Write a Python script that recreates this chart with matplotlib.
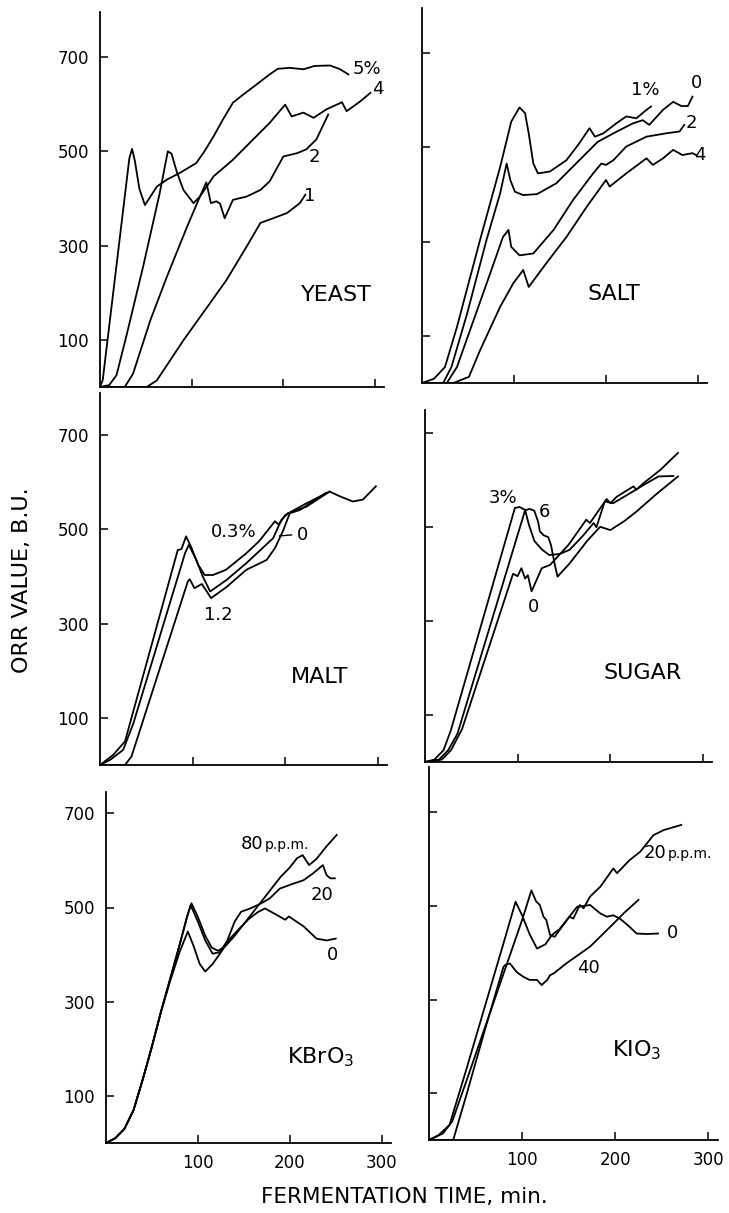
import numpy as np
import matplotlib
matplotlib.use("Agg")
import matplotlib.pyplot as plt

# ---- data: fermentation time (min) vs ORR value (B.U.) ----
# YEAST
yeast5_t = [0, 3, 32, 35, 38, 43, 49, 62, 73, 87, 105, 114, 124, 134, 145, 156, 171, 185, 194, 207, 222, 234, 251, 262, 271]
yeast5_v = [0, 15, 485, 505, 480, 420, 386, 425, 440, 454, 475, 500, 532, 567, 603, 620, 642, 663, 675, 677, 674, 681, 682, 674, 663]
yeast4_t = [0, 10, 18, 29, 47, 65, 74, 78, 84, 91, 102, 109, 124, 145, 167, 185, 202, 209, 222, 233, 247, 264, 269, 284, 295]
yeast4_v = [0, 4, 25, 110, 255, 410, 500, 495, 455, 418, 390, 404, 447, 482, 525, 560, 599, 574, 582, 571, 589, 604, 585, 606, 624]
yeast2_t = [0, 27, 36, 55, 73, 95, 109, 116, 121, 127, 131, 136, 145, 160, 175, 185, 200, 215, 225, 236, 249]
yeast2_v = [0, 0, 28, 142, 234, 340, 404, 434, 390, 394, 389, 358, 397, 404, 418, 436, 489, 496, 504, 525, 578]
yeast1_t = [0, 51, 62, 91, 116, 138, 160, 175, 189, 204, 218, 224]
yeast1_v = [0, 0, 14, 99, 167, 227, 298, 348, 358, 369, 390, 408]

# SALT
salt1_t = [0, 13, 25, 38, 63, 85, 97, 106, 112, 116, 121, 126, 139, 157, 171, 182, 188, 197, 211, 222, 233, 244, 249]
salt1_v = [0, 9, 34, 119, 303, 459, 555, 585, 573, 530, 466, 445, 449, 473, 509, 541, 523, 530, 551, 566, 562, 580, 587]
salt0_t = [0, 23, 32, 49, 70, 85, 92, 96, 101, 110, 125, 146, 171, 191, 208, 229, 240, 247, 262, 273, 282, 289, 294]
salt0_v = [0, 0, 34, 147, 303, 403, 466, 431, 406, 399, 401, 424, 473, 512, 530, 551, 558, 548, 580, 597, 588, 588, 608]
salt2_t = [0, 27, 38, 56, 74, 88, 94, 97, 106, 121, 143, 164, 186, 195, 200, 208, 222, 244, 265, 280, 285]
salt2_v = [0, 0, 34, 133, 232, 310, 325, 289, 271, 275, 325, 388, 445, 466, 463, 473, 502, 523, 530, 534, 548]
salt4_t = [0, 34, 51, 63, 85, 99, 110, 116, 135, 157, 179, 200, 204, 222, 244, 251, 262, 273, 283, 294, 298]
salt4_v = [0, 0, 13, 69, 162, 211, 240, 204, 254, 310, 374, 431, 417, 445, 477, 463, 477, 495, 484, 488, 484]

# MALT
malt03_t = [0, 14, 27, 84, 88, 93, 99, 106, 113, 122, 136, 158, 172, 189, 193, 200, 220, 248]
malt03_v = [0, 21, 50, 456, 458, 485, 460, 425, 403, 403, 414, 449, 475, 517, 510, 530, 552, 580]
malt0_t = [0, 11, 25, 36, 92, 96, 104, 111, 119, 137, 158, 187, 196, 203, 223, 248, 259, 273, 284, 298]
malt0_v = [0, 11, 32, 88, 450, 467, 435, 400, 368, 393, 428, 481, 520, 534, 548, 580, 570, 559, 563, 591]
malt12_t = [0, 27, 34, 95, 97, 102, 110, 113, 120, 137, 158, 180, 189, 198, 205, 216, 244]
malt12_v = [0, 0, 18, 390, 394, 375, 384, 375, 354, 378, 414, 435, 460, 498, 534, 541, 577]

# SUGAR
sugar3_t = [0, 10, 20, 28, 97, 102, 108, 112, 118, 126, 134, 145, 156, 170, 182, 185, 194, 203, 221, 236, 252, 268]
sugar3_v = [0, 5, 25, 68, 540, 542, 536, 505, 470, 452, 440, 442, 451, 480, 508, 499, 554, 550, 571, 589, 607, 608]
sugar6_t = [0, 15, 25, 35, 108, 113, 118, 122, 124, 128, 133, 136, 140, 143, 156, 175, 189, 200, 215, 228, 250, 273]
sugar6_v = [0, 5, 25, 60, 535, 538, 534, 511, 490, 482, 478, 461, 420, 394, 422, 470, 500, 493, 512, 532, 570, 607]
sugar0_t = [0, 18, 28, 40, 95, 100, 104, 108, 111, 115, 120, 126, 135, 155, 174, 178, 196, 200, 207, 225, 228, 236, 254, 273]
sugar0_v = [0, 5, 25, 70, 400, 395, 412, 390, 397, 363, 385, 412, 419, 462, 515, 508, 559, 550, 564, 586, 579, 593, 621, 657]

# KBrO3
kb80_t = [0, 10, 20, 30, 40, 50, 60, 70, 80, 88, 93, 100, 108, 115, 122, 130, 140, 150, 160, 170, 180, 190, 200, 208, 214, 221, 229, 240, 251]
kb80_v = [0, 10, 30, 70, 135, 205, 280, 350, 420, 480, 509, 480, 440, 415, 408, 418, 440, 465, 490, 515, 540, 565, 585, 605, 611, 590, 603, 630, 654]
kb20_t = [0, 10, 20, 30, 40, 50, 60, 70, 80, 88, 92, 100, 108, 116, 124, 132, 140, 147, 157, 168, 178, 189, 200, 215, 225, 236, 240, 244, 249]
kb20_v = [0, 10, 30, 70, 135, 205, 280, 350, 420, 478, 505, 470, 430, 402, 405, 430, 470, 491, 498, 508, 519, 540, 548, 558, 572, 590, 569, 562, 562]
kb0_t = [0, 10, 20, 30, 40, 50, 60, 70, 80, 89, 95, 102, 108, 116, 124, 135, 145, 155, 165, 173, 186, 195, 199, 215, 229, 240, 250]
kb0_v = [0, 10, 30, 70, 135, 205, 280, 345, 405, 449, 420, 380, 364, 380, 402, 434, 455, 475, 490, 498, 484, 474, 481, 460, 434, 430, 434]

# KIO3
ki20_t = [0, 10, 22, 40, 60, 80, 93, 100, 108, 116, 125, 132, 140, 151, 155, 162, 166, 173, 184, 198, 202, 215, 227, 241, 252, 271]
ki20_v = [0, 10, 32, 150, 285, 420, 509, 480, 440, 409, 418, 438, 450, 477, 473, 502, 495, 520, 541, 580, 570, 597, 616, 651, 662, 673]
ki0_t = [0, 15, 25, 40, 60, 80, 100, 110, 115, 119, 123, 126, 130, 135, 148, 159, 173, 184, 191, 198, 205, 214, 223, 234, 246]
ki0_v = [0, 14, 40, 125, 240, 355, 470, 533, 510, 502, 477, 470, 438, 434, 470, 498, 502, 484, 477, 480, 473, 458, 441, 440, 441]
ki40_t = [0, 26, 40, 60, 80, 82, 87, 94, 101, 108, 116, 121, 127, 130, 134, 148, 173, 195, 209, 225]
ki40_v = [0, 0, 95, 235, 370, 374, 377, 359, 349, 342, 342, 331, 342, 352, 356, 378, 413, 456, 484, 513]

y_ticks = [100, 300, 500, 700]
x_ticks = [100, 200, 300]

W, H = 729, 1213
fig = plt.figure(figsize=(W / 100, H / 100), dpi=100)


def panel(x0, x300, y0, y700, ytop, ylabels, xlabels):
    # place an axes so that t=0..300 and v=0..700 land on the given pixels
    pxu = (x300 - x0) / 300
    pyu = (y0 - y700) / 700
    ax = fig.add_axes([x0 / W, 1 - y0 / H, 310 * pxu / W, (y0 - ytop) / H])
    ax.set_xlim(0, 310)
    ax.set_ylim(0, (y0 - ytop) / pyu)
    for s in ['top', 'right']:
        ax.spines[s].set_visible(False)
    for s in ['left', 'bottom']:
        ax.spines[s].set_linewidth(1.3)
    ax.set_yticks(y_ticks)
    ax.set_xticks(x_ticks)
    ax.tick_params(direction='in', length=6, width=1.1, labelsize=12, pad=8)
    if not ylabels:
        ax.set_yticklabels([])
    if not xlabels:
        ax.set_xticklabels([])
    return ax


kw = dict(color='black', lw=1.3)
lab = dict(fontsize=13, ha='center', va='center')
big = dict(fontsize=16, ha='center', va='center')

ax = panel(100, 375, 387, 57, 12, True, False)
ax.plot(yeast5_t, yeast5_v, **kw)
ax.plot(yeast4_t, yeast4_v, **kw)
ax.plot(yeast2_t, yeast2_v, **kw)
ax.plot(yeast1_t, yeast1_v, **kw)
ax.text(291, 674, '5%', **lab)
ax.text(303, 632, '4', **lab)
ax.text(234, 487, '2', **lab)
ax.text(229, 405, '1', **lab)
ax.text(258, 196, 'YEAST', **big)

ax = panel(422, 698, 383, 53.3, 8, False, False)
ax.plot(salt1_t, salt1_v, **kw)
ax.plot(salt0_t, salt0_v, **kw)
ax.plot(salt2_t, salt2_v, **kw)
ax.plot(salt4_t, salt4_v, **kw)
ax.text(243, 622, '1%', **lab)
ax.text(298, 636, '0', **lab)
ax.text(293, 551, '2', **lab)
ax.text(302, 484, '4', **lab)
ax.text(209, 190, 'SALT', **big)

ax = panel(100, 377.7, 765, 435, 393, True, False)
ax.plot(malt03_t, malt03_v, **kw)
ax.plot(malt0_t, malt0_v, **kw)
ax.plot(malt12_t, malt12_v, **kw)
ax.plot([194, 207], [486, 488], color='black', lw=1.0)
ax.text(144, 495, '0.3%', **lab)
ax.text(219, 488, '0', **lab)
ax.text(128, 318, '1.2', **lab)
ax.text(237, 187, 'MALT', **big)

ax = panel(425, 703, 762, 432.7, 410, False, False)
ax.plot(sugar3_t, sugar3_v, **kw)
ax.plot(sugar6_t, sugar6_v, **kw)
ax.plot(sugar0_t, sugar0_v, **kw)
ax.text(84, 561, '3%', **lab)
ax.text(129, 532, '6', **lab)
ax.text(117, 330, '0', **lab)
ax.text(235, 189, 'SUGAR', **big)

ax = panel(106, 381.7, 1143, 813.3, 792, True, True)
ax.plot(kb80_t, kb80_v, **kw)
ax.plot(kb20_t, kb20_v, **kw)
ax.plot(kb0_t, kb0_v, **kw)
ax.text(171, 624, '80', fontsize=13, ha='right', va='baseline')
ax.text(173, 624, 'p.p.m.', fontsize=10, ha='left', va='baseline')
ax.text(235, 526, '20', **lab)
ax.text(247, 399, '0', **lab)
ax.text(233, 183, r'KBrO$_3$', **big)

ax = panel(429, 708.3, 1140, 812.3, 767, False, True)
ax.plot(ki20_t, ki20_v, **kw)
ax.plot(ki0_t, ki0_v, **kw)
ax.plot(ki40_t, ki40_v, **kw)
ax.text(255, 602, '20', fontsize=13, ha='right', va='baseline')
ax.text(256.5, 602, 'p.p.m.', fontsize=10, ha='left', va='baseline')
ax.text(262, 442, '0', **lab)
ax.text(171, 367, '40', **lab)
ax.text(223, 192, r'KIO$_3$', **big)

fig.text(22 / W, 1 - 580 / H, 'ORR VALUE, B.U.', rotation=90, fontsize=16,
         ha='center', va='center')
fig.text(404 / W, 1 - 1197 / H, 'FERMENTATION TIME, min.', fontsize=15.5,
         ha='center', va='center')

fig.savefig('out.png', dpi=100)
